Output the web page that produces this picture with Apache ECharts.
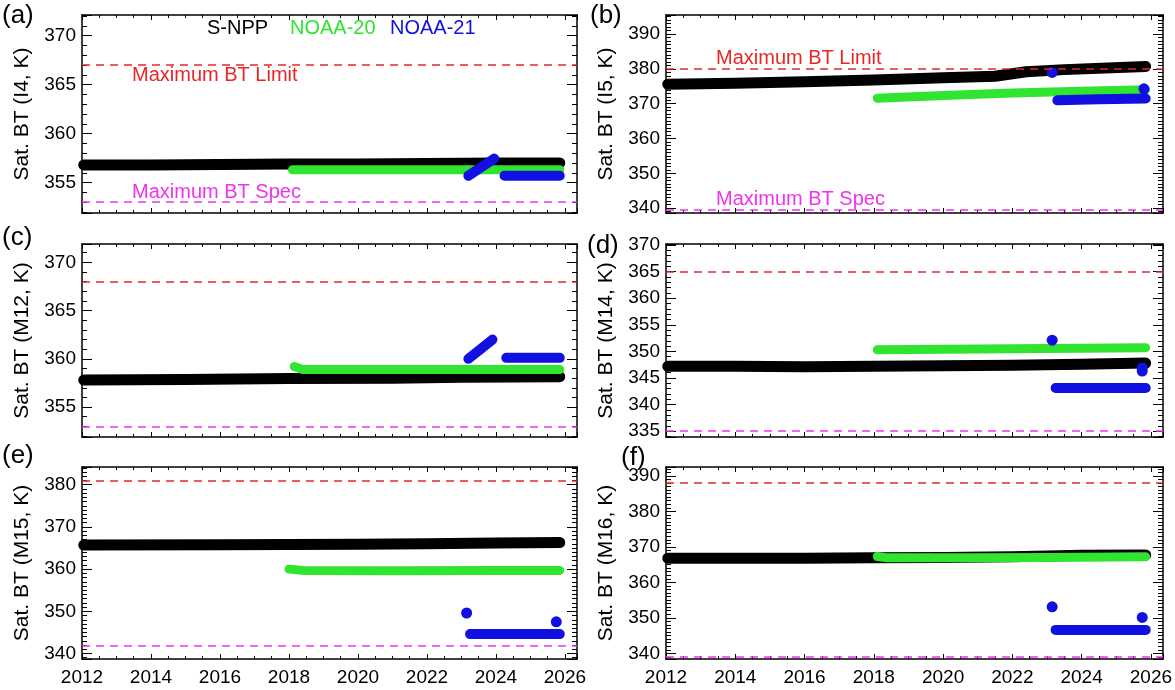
<!DOCTYPE html>
<html>
<head>
<meta charset="utf-8">
<script src="https://cdn.jsdelivr.net/npm/echarts@6/dist/echarts.min.js"></script>
<style>
html, body { margin: 0; padding: 0; background: #fff; }
#chart { width: 1175px; height: 690px; }
</style>
</head>
<body>
<div id="chart"></div>
<script>
// panel names / channels
const tags = ['(a)', '(b)', '(c)', '(d)', '(e)', '(f)'];
const channels = ['I4', 'I5', 'M12', 'M14', 'M15', 'M16'];

// y ranges (K) and tick steps
const yMin = [351.9, 338.6, 351.9, 333.9, 338.7, 338.4];
const yMax = [372.1, 395.5, 371.9, 370.2, 384.2, 392.5];
const yStep = [5, 10, 5, 5, 10, 10];
const yMinor = [5, 10, 5, 5, 10, 10];

// x range (year)
const xMin = 2012;
const xMax = 2026.35;
const xStep = 2;

// reference lines
const limitBT = [367, 380, 368, 365, 381, 388];
const specBT = [353, 339.6, 353, 335, 341.8, 339];

// S-NPP
const snppA = [[2012.05, 356.8], [2014, 356.8], [2016, 356.85], [2018, 356.9], [2020, 356.9], [2022, 356.95], [2024, 357.0], [2025.85, 357.0]];
const snppB = [[2012.05, 375.6], [2014, 375.9], [2016, 376.3], [2018, 376.8], [2020, 377.5], [2021.5, 377.9], [2022.4, 379.2], [2023.5, 379.8], [2025.85, 380.7]];
const snppC = [[2012.05, 357.8], [2015, 357.85], [2018, 357.95], [2021, 358.0], [2023, 358.1], [2025.85, 358.15]];
const snppD = [[2012.05, 347.2], [2014, 347.2], [2016, 347.1], [2018, 347.2], [2020, 347.3], [2022, 347.4], [2024, 347.6], [2025.85, 347.8]];
const snppE = [[2012.05, 365.7], [2016, 365.8], [2020, 365.9], [2022, 366.0], [2024, 366.2], [2025.85, 366.3]];
const snppF = [[2012.05, 366.8], [2016, 366.8], [2018, 366.9], [2020, 367.0], [2022, 367.2], [2024, 367.6], [2025.85, 367.7]];

// NOAA-20
const n20A = [[2018.1, 356.3], [2020, 356.3], [2022, 356.3], [2024, 356.3], [2025.85, 356.3]];
const n20B = [[2018.1, 371.6], [2020, 372.4], [2022, 373.1], [2024, 373.6], [2025.85, 374.0]];
const n20C = [[2018.15, 359.2], [2018.4, 358.9], [2021, 358.9], [2023.5, 358.9], [2025.85, 358.9]];
const n20D = [[2018.1, 350.3], [2020, 350.4], [2022, 350.5], [2024, 350.6], [2025.85, 350.7]];
const n20E = [[2018.0, 360.0], [2018.4, 359.7], [2021, 359.6], [2024, 359.7], [2025.85, 359.7]];
const n20F = [[2018.1, 367.3], [2018.4, 366.9], [2021, 366.9], [2023, 367.0], [2025.85, 367.2]];

// NOAA-21 ('-' breaks the line)
const n21A = [[2023.2, 355.7], [2023.95, 357.45], [2024.1, '-'], [2024.25, 355.7], [2025.85, 355.7]];
const n21B = [[2023.3, 371.0], [2024.5, 371.3], [2025.85, 371.5]];
const n21C = [[2023.2, 360.0], [2023.9, 362.0], [2024.1, '-'], [2024.3, 360.1], [2025.85, 360.1]];
const n21D = [[2023.25, 343.1], [2025.85, 343.1]];
const n21E = [[2023.25, 344.6], [2025.85, 344.6]];
const n21F = [[2023.25, 346.6], [2025.85, 346.6]];

// NOAA-21 single points
const dotsB = [[2023.15, 379.0], [2025.8, 374.3]];
const dotsD = [[2023.15, 352.1], [2025.75, 346.3], [2025.75, 346.9]];
const dotsE = [[2023.15, 349.6], [2025.75, 347.5]];
const dotsF = [[2023.15, 353.1], [2025.75, 350.1]];

const snpp = [snppA, snppB, snppC, snppD, snppE, snppF];
const n20 = [n20A, n20B, n20C, n20D, n20E, n20F];
const n21 = [n21A, n21B, n21C, n21D, n21E, n21F];
const n21Dots = [[], dotsB, [], dotsD, dotsE, dotsF];

// layout
const colLeft = [82, 666];
const colWidth = [495, 497];
const rowTop = [15, 244, 467];
const rowHeight = [198, 193, 192];
const tagPos = [[2, 3], [590, 3], [2, 225], [587, 233], [2, 443], [621, 445]];
const limitLabelPos = ['insideStartBottom', 'insideStartTop', '', '', '', ''];
const specLabelPos = ['insideStartTop', 'insideStartTop', '', '', '', ''];

const FONT = '"Liberation Sans", Arial, Helvetica, sans-serif';
const BLACK = '#000000';
const GREEN = '#30e430';
const BLUE = '#1010e0';
const RED = '#e82626';
const PINK = '#ee33ee';

function onStep(v, step) {
	return Math.abs(v / step - Math.round(v / step)) < 1e-6;
}

// big labels hide inside ticks in v6, so ticks and labels live on separate axes
function xTickAxis(i, pos) {
	return {
		type: 'value',
		gridIndex: i,
		position: pos,
		min: xMin,
		max: xMax,
		splitNumber: 7,
		minInterval: xStep,
		maxInterval: xStep,
		axisLine: { show: true, onZero: false, lineStyle: { color: BLACK, width: 1.5 } },
		axisTick: { show: true, inside: true, length: 5, lineStyle: { color: BLACK, width: 1 } },
		minorTick: { show: true, splitNumber: 4, length: 3, lineStyle: { color: BLACK, width: 1 } },
		splitLine: { show: false },
		axisLabel: { show: false }
	};
}

function xLabelAxis(i, showLabel) {
	return {
		type: 'value',
		gridIndex: i,
		position: 'bottom',
		min: xMin,
		max: xMax,
		splitNumber: 7,
		minInterval: xStep,
		maxInterval: xStep,
		axisLine: { show: false, onZero: false },
		axisTick: { show: false },
		minorTick: { show: false },
		splitLine: { show: false },
		axisLabel: {
			show: showLabel,
			color: BLACK,
			fontSize: 19,
			fontFamily: FONT,
			margin: 9,
			formatter: v => onStep(v, xStep) ? String(Math.round(v)) : ''
		}
	};
}

function yTickAxis(i, pos) {
	return {
		type: 'value',
		gridIndex: i,
		position: pos,
		min: yMin[i],
		max: yMax[i],
		splitNumber: 4,
		minInterval: yStep[i],
		maxInterval: yStep[i],
		axisLine: { show: true, onZero: false, lineStyle: { color: BLACK, width: 1.5 } },
		axisTick: { show: true, inside: true, length: 10, lineStyle: { color: BLACK, width: 1 } },
		minorTick: { show: true, splitNumber: yMinor[i], length: 5, lineStyle: { color: BLACK, width: 1 } },
		splitLine: { show: false },
		axisLabel: { show: false }
	};
}

function yLabelAxis(i) {
	return {
		type: 'value',
		gridIndex: i,
		position: 'left',
		min: yMin[i],
		max: yMax[i],
		splitNumber: 4,
		minInterval: yStep[i],
		maxInterval: yStep[i],
		axisLine: { show: false, onZero: false },
		axisTick: { show: false },
		minorTick: { show: false },
		splitLine: { show: false },
		name: 'Sat. BT (' + channels[i] + ', K)',
		nameLocation: 'middle',
		nameGap: 49,
		nameTextStyle: { color: BLACK, fontSize: 21, fontFamily: FONT },
		axisLabel: {
			show: true,
			color: BLACK,
			fontSize: 19,
			fontFamily: FONT,
			margin: 6,
			formatter: v => onStep(v, yStep[i]) ? String(Math.round(v)) : ''
		}
	};
}

function lineLabel(text, color, pos) {
	if (!pos) return { show: false };
	return {
		show: true,
		position: pos,
		distance: [50, 0],
		formatter: text,
		color: color,
		fontSize: 20,
		fontFamily: FONT
	};
}

var chart = echarts.init(document.getElementById('chart'), null, {
	width: 1175,
	height: 690
});

var grid = [], xAxis = [], yAxis = [], series = [], title = [];

for (let i = 0; i < 6; i++) {
	const col = i % 2, row = Math.floor(i / 2);
	grid.push({
		left: colLeft[col],
		top: rowTop[row],
		width: colWidth[col],
		height: rowHeight[row],
		outerBoundsMode: 'none'
	});
	// 3 x axes and 3 y axes per panel: ticks, opposite ticks, labels
	xAxis.push(xTickAxis(i, 'bottom'));
	xAxis.push(xTickAxis(i, 'top'));
	xAxis.push(xLabelAxis(i, row === 2));
	yAxis.push(yTickAxis(i, 'left'));
	yAxis.push(yTickAxis(i, 'right'));
	yAxis.push(yLabelAxis(i));

	const xi = 3 * i, yi = 3 * i;

	series.push({
		type: 'line',
		name: 'S-NPP',
		xAxisIndex: xi,
		yAxisIndex: yi,
		data: snpp[i],
		showSymbol: false,
		symbol: 'none',
		lineStyle: { color: BLACK, width: 11, cap: 'round', join: 'round' },
		itemStyle: { color: BLACK },
		z: 2,
		silent: true,
		markLine: {
			silent: true,
			symbol: ['none', 'none'],
			animation: false,
			data: [
				{ yAxis: limitBT[i], lineStyle: { color: RED, type: [8, 6], width: 1.5 }, label: lineLabel('Maximum BT Limit', RED, limitLabelPos[i]) },
				{ yAxis: specBT[i], lineStyle: { color: PINK, type: [8, 6], width: 1.5 }, label: lineLabel('Maximum BT Spec', PINK, specLabelPos[i]) }
			]
		}
	});
	series.push({
		type: 'line',
		name: 'NOAA-20',
		xAxisIndex: xi,
		yAxisIndex: yi,
		data: n20[i],
		showSymbol: false,
		symbol: 'none',
		lineStyle: { color: GREEN, width: 9, cap: 'round', join: 'round' },
		itemStyle: { color: GREEN },
		z: 3,
		silent: true
	});
	series.push({
		type: 'line',
		name: 'NOAA-21',
		xAxisIndex: xi,
		yAxisIndex: yi,
		data: n21[i],
		connectNulls: false,
		showSymbol: false,
		symbol: 'none',
		lineStyle: { color: BLUE, width: 10, cap: 'round', join: 'round' },
		itemStyle: { color: BLUE },
		z: 4,
		silent: true
	});
	series.push({
		type: 'scatter',
		name: 'NOAA-21',
		xAxisIndex: xi,
		yAxisIndex: yi,
		data: n21Dots[i],
		symbolSize: 11,
		itemStyle: { color: BLUE, opacity: 1 },
		z: 4,
		silent: true
	});

	title.push({
		text: tags[i],
		left: tagPos[i][0],
		top: tagPos[i][1],
		padding: 0,
		textStyle: { color: BLACK, fontSize: 26, fontWeight: 'normal', fontFamily: FONT }
	});
}

// legend words in panel (a)
const legendNames = ['S-NPP', 'NOAA-20', 'NOAA-21'];
const legendColors = [BLACK, GREEN, BLUE];
const legendLeft = [207, 290, 390];
for (let k = 0; k < 3; k++) {
	title.push({
		text: legendNames[k],
		left: legendLeft[k],
		top: 18,
		padding: 0,
		textStyle: { color: legendColors[k], fontSize: 20, fontWeight: 'normal', fontFamily: FONT }
	});
}

var option = {
	backgroundColor: '#ffffff',
	animation: false,
	title: title,
	grid: grid,
	xAxis: xAxis,
	yAxis: yAxis,
	series: series
};

chart.setOption(option);
</script>
</body>
</html>
